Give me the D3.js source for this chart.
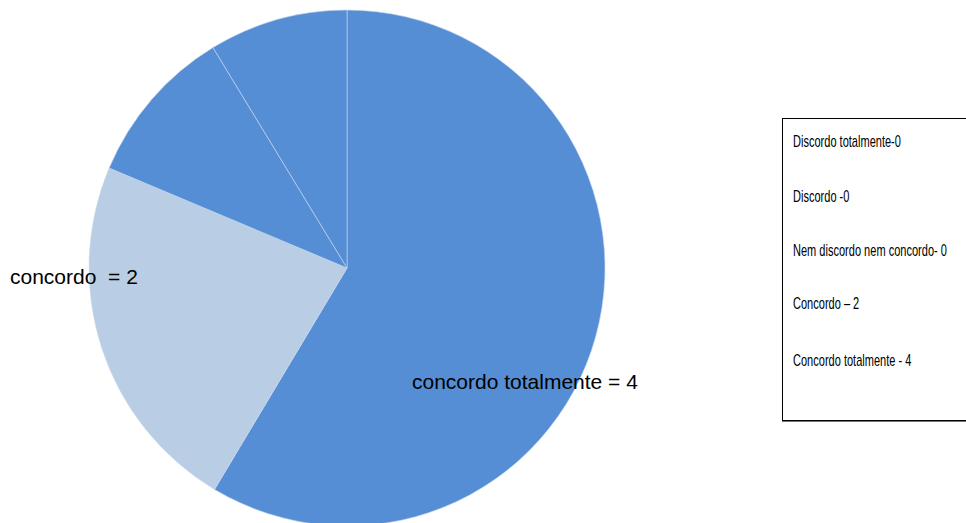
<!DOCTYPE html>
<html>
<head>
<meta charset="utf-8">
<script src="https://cdn.jsdelivr.net/npm/d3@7"></script>
<style>
  html, body { margin: 0; padding: 0; background: #fff; }
  svg { display: block; }
</style>
</head>
<body>
<svg id="chart" width="966" height="523"></svg>
<script>
// Slices, clockwise from 12 o'clock (values read as share of the pie, in degrees)
const sliceNames  = ["Concordo totalmente", "Concordo", "Outro A", "Outro B"];
const sliceValues = [210.9, 81.9, 35.9, 31.3];
const sliceColors = ["#558ED5", "#B9CDE5", "#558ED5", "#558ED5"];
const sliceLabels = ["concordo totalmente = 4", "concordo  = 2", "", ""];

// Legend entries
const legendLabels = [
  "Discordo totalmente-0",
  "Discordo -0",
  "Nem discordo nem concordo- 0",
  "Concordo \u2013 2",
  "Concordo totalmente - 4"
];

const svg = d3.select("#chart");
const cx = 347, cy = 268, R = 258;

const pie = d3.pie().sort(null).value(d => d.v);
const arcs = pie(sliceValues.map((v, i) => ({ v, i })));
const arc = d3.arc().innerRadius(0).outerRadius(R);

const g = svg.append("g").attr("transform", `translate(${cx},${cy})`);
g.selectAll("path.slice")
  .data(arcs)
  .join("path")
  .attr("class", "slice")
  .attr("d", arc)
  .attr("fill", d => sliceColors[d.data.i])
  .attr("stroke", "#c9d9ef")
  .attr("stroke-width", 0.6);

// Data labels (positioned per slice)
const labelPos = [
  { x: 412, y: 389 },
  { x: 10, y: 284 }
];
svg.selectAll("text.dlabel")
  .data(sliceLabels.filter(s => s))
  .join("text")
  .attr("class", "dlabel")
  .attr("x", (d, i) => labelPos[i].x)
  .attr("y", (d, i) => labelPos[i].y)
  .attr("font-family", "Liberation Sans, Arial, sans-serif")
  .attr("font-size", 21)
  .attr("fill", "#000")
  .attr("xml:space", "preserve")
  .style("white-space", "pre")
  .text(d => d);

// Legend box
const lg = svg.append("g");
lg.append("rect")
  .attr("x", 782.5).attr("y", 118.5)
  .attr("width", 200).attr("height", 302)
  .attr("fill", "#fff")
  .attr("stroke", "#000")
  .attr("stroke-width", 1);
lg.append("line")
  .attr("x1", 782).attr("x2", 966)
  .attr("y1", 421.5).attr("y2", 421.5)
  .attr("stroke", "#777").attr("stroke-width", 1.2);

const legendY = [147, 202, 256, 309, 366];
lg.selectAll("text.leg")
  .data(legendLabels)
  .join("text")
  .attr("class", "leg")
  .attr("transform", (d, i) => `translate(793,${legendY[i]}) scale(0.69,1)`)
  .attr("font-family", "Liberation Sans, Arial, sans-serif")
  .attr("font-size", 16)
  .attr("fill", "#000")
  .text(d => d);
</script>
</body>
</html>
